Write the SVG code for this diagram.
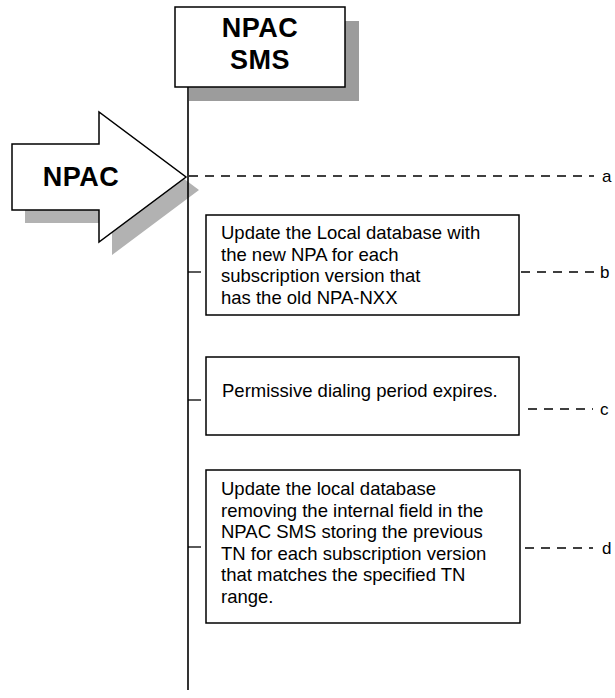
<svg xmlns="http://www.w3.org/2000/svg" width="615" height="698" viewBox="0 0 615 698">
<style>
.box{fill:#fff;stroke:#000;stroke-width:1.5}
.t{font-family:"Liberation Sans",Arial,sans-serif;font-size:18.5px;fill:#000}
.big{font-family:"Liberation Sans",Arial,sans-serif;font-size:27px;font-weight:bold;fill:#000;text-anchor:middle;letter-spacing:0.5px}
.lbl{font-family:"Liberation Sans",Arial,sans-serif;font-size:17px;fill:#000}
.dash{stroke:#000;stroke-width:1.3;stroke-dasharray:9 7;fill:none}
.tick{stroke:#000;stroke-width:1.3}
</style>
<rect width="615" height="698" fill="#fff"/>
<g id="npac-sms">
<rect x="189" y="21" width="170" height="80" fill="#9c9c9c"/>
<rect class="box" x="175" y="7" width="170" height="80"/>
<text class="big" x="260" y="37">NPAC</text>
<text class="big" x="260" y="69">SMS</text>
</g>
<g id="npac-arrow">
<polygon points="25,157 112,157 112,125 199,190 112,255 112,223 25,223" fill="#b2b2b2"/>
<polygon class="box" points="12,144 99,144 99,112 186,177 99,242 99,210 12,210"/>
<text class="big" x="81" y="186">NPAC</text>
</g>
<g id="connectors">
<line x1="188" y1="87" x2="188" y2="690" stroke="#000" stroke-width="1.6"/>
<line class="dash" x1="189" y1="176" x2="594" y2="176"/>
<line class="tick" x1="188" y1="272" x2="201" y2="272"/>
<line class="dash" x1="521" y1="272" x2="594" y2="272"/>
<line class="tick" x1="188" y1="400" x2="201" y2="400"/>
<line class="dash" x1="528" y1="409" x2="593" y2="409"/>
<line class="tick" x1="188" y1="547" x2="201" y2="547"/>
<line class="dash" x1="525" y1="548" x2="593" y2="548"/>
</g>
<g id="label-a"><text class="lbl" x="602" y="182">a</text></g>
<g id="label-b"><text class="lbl" x="600" y="278">b</text></g>
<g id="label-c"><text class="lbl" x="600" y="415">c</text></g>
<g id="label-d"><text class="lbl" x="602" y="554">d</text></g>
<g id="step-b">
<rect class="box" x="206" y="215" width="313" height="100"/>
<text class="t" x="221" y="239">Update the Local database with</text>
<text class="t" x="221" y="260.6">the new NPA for each</text>
<text class="t" x="221" y="282.2">subscription version that</text>
<text class="t" x="221" y="303.8">has the old NPA-NXX</text>
</g>
<g id="step-c">
<rect class="box" x="206" y="357" width="313" height="78"/>
<text class="t" x="222" y="397">Permissive dialing period expires.</text>
</g>
<g id="step-d">
<rect class="box" x="206" y="470" width="314" height="153"/>
<text class="t" x="221" y="495">Update the local database</text>
<text class="t" x="221" y="516.6">removing the internal field in the</text>
<text class="t" x="221" y="538.2">NPAC SMS storing the previous</text>
<text class="t" x="221" y="559.8">TN for each subscription version</text>
<text class="t" x="221" y="581.4">that matches the specified TN</text>
<text class="t" x="221" y="603">range.</text>
</g>
</svg>
